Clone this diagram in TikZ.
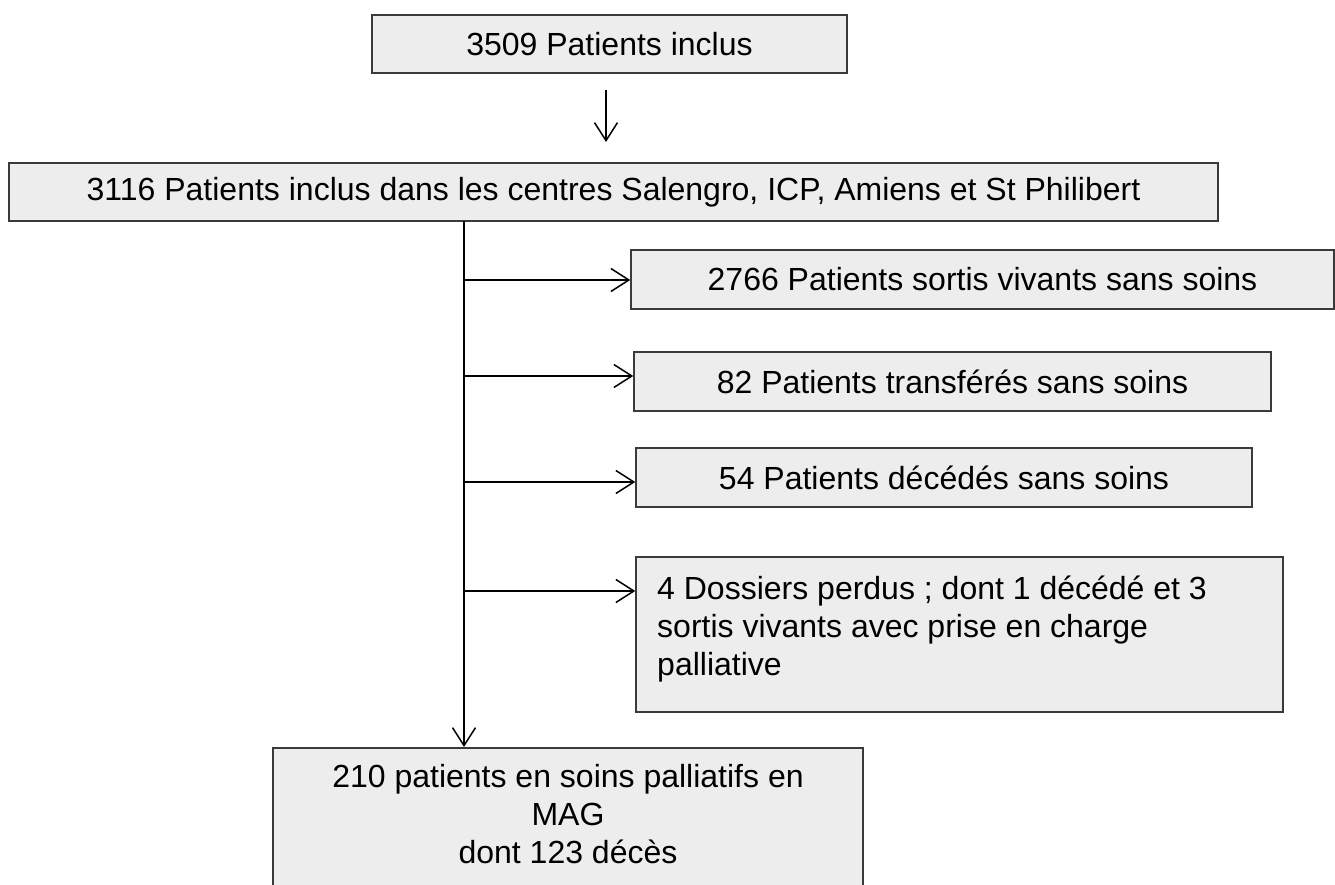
\documentclass[tikz,border=0pt]{standalone}
\usepackage{fontspec}
\setmainfont{Liberation Sans}
\usetikzlibrary{arrows.meta}
\definecolor{boxfill}{HTML}{EDEDED}
\definecolor{boxline}{HTML}{3A3A3A}
\begin{document}
\begin{tikzpicture}[x=1pt,y=-1pt,
  box/.style={draw=boxline, fill=boxfill, line width=1.5pt, inner sep=0pt},
  txt/.style={font=\fontsize{32}{38}\selectfont, inner sep=0pt},
  conn/.style={line width=1.5pt, -{Straight Barb[length=18pt,width=23pt,line width=1.5pt]}}]
\useasboundingbox (0,0) rectangle (1335,885);
\clip (0,0) rectangle (1335,885);
\node[box, txt, minimum width=475pt, minimum height=58pt] (b1) at (609.5,44) {3509 Patients inclus};
\node[box, txt, minimum width=1209pt, minimum height=58pt] (b2) at (613.5,192) {3116 Patients inclus dans les centres Salengro, ICP, Amiens et St Philibert};
\node[box, txt, minimum width=703pt, minimum height=59pt] (b3) at (982.5,279.5) {2766 Patients sortis vivants sans soins};
\node[box, txt, minimum width=637pt, minimum height=59pt] (b4) at (952.5,381.5) {82 Patients transférés sans soins};
\node[box, txt, minimum width=616pt, minimum height=59pt] (b5) at (944,477.5) {54 Patients décédés sans soins};
\node[box, minimum width=647pt, minimum height=155pt] (b6) at (959.5,634.5) {};
\node[txt, anchor=north west, align=left] (b6t) at (657,576) {4 Dossiers perdus ; dont 1 décédé et 3\\sortis vivants avec prise en charge\\palliative};
\node[box, minimum width=590pt, minimum height=170pt, anchor=north] (b7) at (568,747) {};
\node[txt, anchor=north, align=center, font=\fontsize{32}{38}\selectfont] (b7t) at (568,764) {210 patients en soins palliatifs en\\MAG\\dont 123 décès};
% connectors
\coordinate (a1s) at (606,90);
\coordinate (a1e) at (606,142);
\draw[conn] (a1s) -- (a1e);
\coordinate (v0) at (464,221);
\draw[conn] (v0) -- (v0 |- b7.north);
\coordinate (j3) at (464,280);
\coordinate (j4) at (464,376);
\coordinate (j5) at (464,482);
\coordinate (j6) at (464,591);
\draw[conn] (j3) -- (j3 -| b3.west);
\draw[conn] (j4) -- (j4 -| b4.west);
\draw[conn] (j5) -- (j5 -| b5.west);
\draw[conn] (j6) -- (j6 -| b6.west);
\end{tikzpicture}
\end{document}
